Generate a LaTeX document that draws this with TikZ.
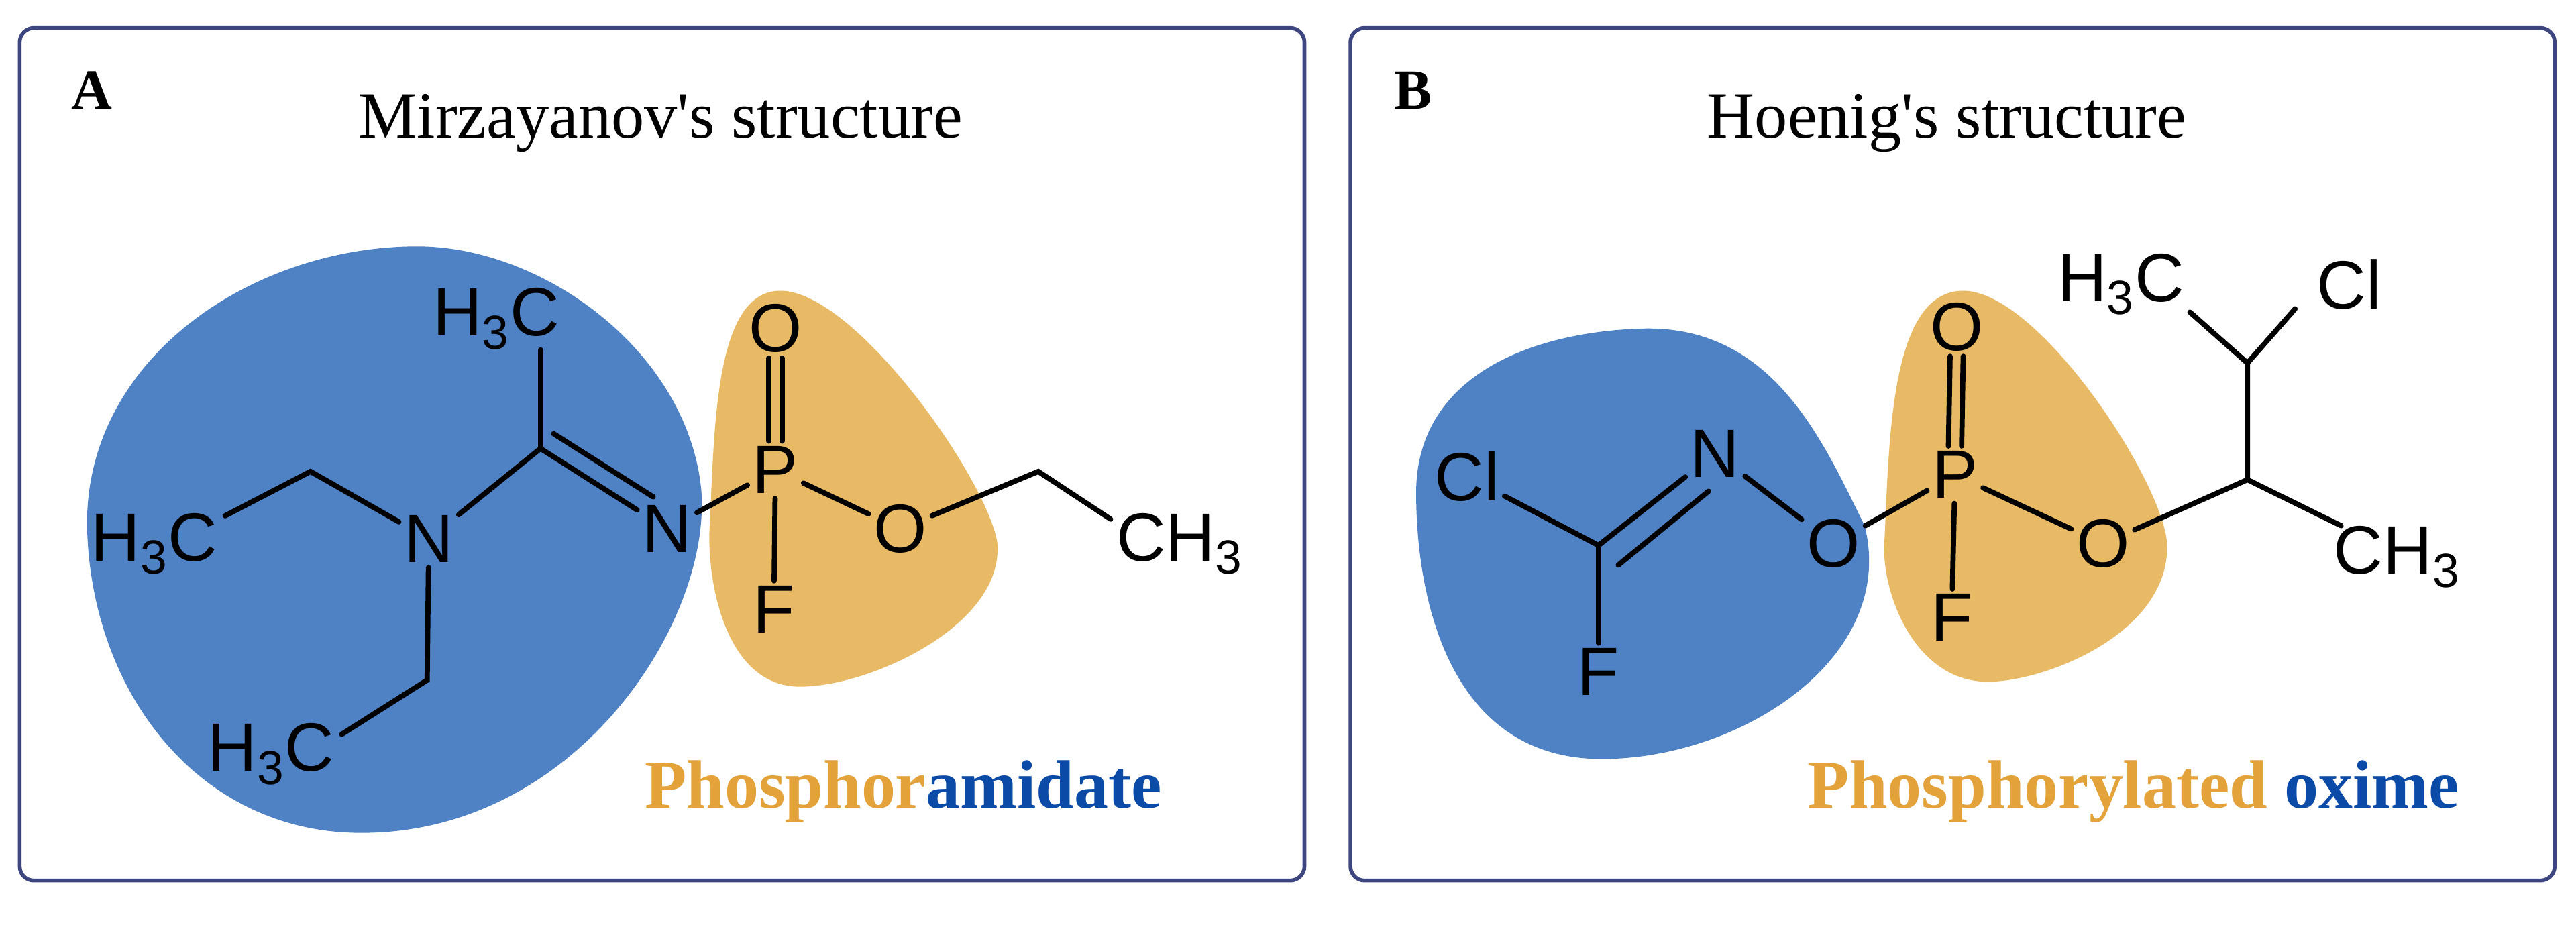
\documentclass[tikz,border=0pt]{standalone}
\usepackage{fontspec}
\setmainfont{Liberation Serif}
\newfontfamily\atomsans{Liberation Sans}
\usetikzlibrary{calc}
\definecolor{blobblue}{HTML}{4F81C5}
\definecolor{bloborange}{HTML}{E8BA65}
\definecolor{txtorange}{HTML}{E3A23A}
\definecolor{txtblue}{HTML}{0B4AA6}
\definecolor{frame}{HTML}{3E4680}
\begin{document}
\begin{tikzpicture}[x=0.02449cm,y=-0.02449cm,
  atom/.style={font=\atomsans\fontsize{29}{34}\selectfont, inner sep=2pt},
  bond/.style={line width=2.2pt, line cap=round},
  panel/.style={draw=frame, line width=1.6pt, rounded corners=6pt},
  title/.style={font=\fontsize{28}{33}\selectfont},
  tag/.style={font=\bfseries\fontsize{24}{28}\selectfont},
  lab/.style={font=\bfseries\fontsize{29}{34}\selectfont, anchor=base east}]
\useasboundingbox (0,0) rectangle (1568,563);
\fill[white] (0,0) rectangle (1568,563);
\draw[panel] (12,17) rectangle (794,536);
\draw[panel] (822,17) rectangle (1555,536);
\node[tag] (tA) at (56,55) {A};
\node[tag] (tB) at (860,55) {B};
\node[title] (hA) at (402,75) {Mirzayanov\textquotesingle s structure};
\node[title] (hB) at (1185,75) {Hoenig\textquotesingle s structure};

% blobs A
\fill[blobblue] (250,150) .. controls (330,148) and (420,215) .. (427,300) .. controls (432,380) and (350,507) .. (220,507) .. controls (120,507) and (55,420) .. (53,320) .. controls (52,220) and (150,152) .. cycle;
\fill[bloborange] (475,177) .. controls (520,177) and (600,290) .. (607,330) .. controls (612,380) and (530,418) .. (487,418) .. controls (440,418) and (430,350) .. (432,320) .. controls (435,260) and (435,177) .. cycle;
% blobs B
\fill[blobblue] (1000,200) .. controls (1080,198) and (1110,270) .. (1135,320) .. controls (1155,400) and (1060,462) .. (975,462) .. controls (880,462) and (862,360) .. (862,300) .. controls (862,230) and (930,202) .. cycle;
\fill[bloborange] (1195,177) .. controls (1240,177) and (1315,290) .. (1319,330) .. controls (1322,385) and (1245,415) .. (1210,415) .. controls (1165,415) and (1145,360) .. (1147,330) .. controls (1150,270) and (1150,177) .. cycle;

% molecule A
\node[atom] (a1) at (94,331) {H\textsubscript{3}C};
\coordinate (c1) at (189,287);
\node[atom] (n1) at (261,328) {N};
\coordinate (c2) at (329,273);
\node[atom] (a2) at (302,194) {H\textsubscript{3}C};
\coordinate (a2b) at (329,213);
\node[atom] (n2) at (406,322) {N};
\coordinate (c3) at (260,414);
\node[atom] (a3) at (165,459) {H\textsubscript{3}C};
\node[atom] (p) at (472,286) {P};
\node[atom] (o1) at (472,200) {O};
\node[atom] (f) at (471,371) {F};
\node[atom] (o2) at (548,322) {O};
\coordinate (c4) at (632,287);
\node[atom] (m) at (718,331) {CH\textsubscript{3}};
\draw[bond] (137,314) -- (c1) -- (n1);
\draw[bond] (n1) -- (c2) -- (n2);
\draw[bond] (a2b) -- (c2);
\draw[bond, shorten >=2pt] ($(c2)+(8,-9)$) -- ($(n2)+(-6,-18)$);
\draw[bond] (n1) -- (c3) -- (208,447);
\draw[bond] (n2) -- (p) -- (o2) -- (c4) -- (676,316);
\draw[bond] (p) -- (f);
\draw[bond] ($(p.north)+(-4,0)$) -- ($(o1.south)+(-4,0)$);
\draw[bond] ($(p.north)+(4,0)$) -- ($(o1.south)+(4,0)$);
\node[lab] (lA) at (712,492) {\textcolor{txtorange}{Phosphor}\textcolor{txtblue}{amidate}};

% molecule B
\node[atom] (cl1) at (893,290) {Cl};
\coordinate (cb) at (973,332);
\node[atom] (fb) at (973,409) {F};
\node[atom] (nb) at (1044,276) {N};
\node[atom] (ob1) at (1116,331) {O};
\node[atom] (pb) at (1190,289) {P};
\node[atom] (ob0) at (1191,199) {O};
\node[atom] (fb2) at (1188,376) {F};
\node[atom] (ob2) at (1280,331) {O};
\coordinate (ch) at (1368,292);
\coordinate (cu) at (1368,221);
\node[atom] (hb) at (1291,173) {H\textsubscript{3}C};
\node[atom] (clb) at (1430,173) {Cl};
\node[atom] (mb) at (1459,339) {CH\textsubscript{3}};
\draw[bond] (cl1) -- (cb) -- (nb);
\draw[bond] (cb) -- (fb);
\draw[bond] (985,344) -- (1040,299);
\draw[bond] (nb) -- (ob1) -- (pb) -- (ob2) -- (ch) -- (cu);
\draw[bond] (pb) -- (fb2);
\draw[bond] ($(pb.north)+(-4,0)$) -- ($(ob0.south)+(-4,0)$);
\draw[bond] ($(pb.north)+(4,0)$) -- ($(ob0.south)+(4,0)$);
\draw[bond] (1333,190) -- (cu) -- (1397,188);
\draw[bond] (ch) -- (1425,320);
\node[lab] (lB) at (1502,492) {\textcolor{txtorange}{Phosphorylated} \textcolor{txtblue}{oxime}};
\end{tikzpicture}
\end{document}
